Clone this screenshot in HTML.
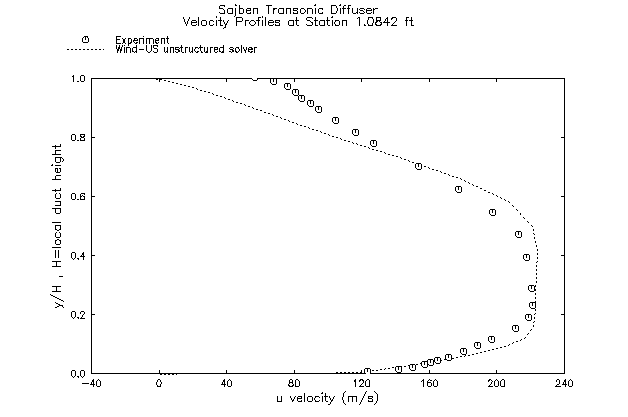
<!DOCTYPE html>
<html><head><meta charset="utf-8"><title>Sajben Transonic Diffuser - Velocity Profiles at Station 1.0842 ft</title>
<style>
html,body{margin:0;padding:0;background:#fff;}
body{width:628px;height:417px;overflow:hidden;font-family:"Liberation Sans",sans-serif;}
svg{display:block}
.ln{fill:none;stroke:#000;stroke-width:1;shape-rendering:crispEdges}
.ht{font-family:"Liberation Sans",sans-serif;fill:none;stroke:none}
</style></head><body>
<svg width="628" height="417" viewBox="0 0 628 417" role="img">
<title>Sajben Transonic Diffuser: Velocity Profiles at Station 1.0842 ft</title>
<desc>y/H, H=local duct height versus u velocity (m/s). Experiment (circles) and Wind-US unstructured solver (dotted line).</desc>
<defs><clipPath id="cp"><rect x="91" y="78" width="474" height="296"/></clipPath></defs>
<rect x="0" y="0" width="628" height="417" fill="#fff"/>
<g><path class="ln" d="M235 4.5h1M315 4.5h1M340 4.5h1M220 5.5h5M235 5.5h2M239.5 5v3M266 5.5h6M314 5.5h2M331 5.5h5M339 5.5h2M344 5.5h2M348 5.5h3M219.5 6v2M224 6.5h1M268.5 6v8M331.5 6v7M336.5 6v2M343.5 6v2M348.5 6v2M219 8.5h4M228 8.5h5M235.5 8v8M239 8.5h4M247 8.5h4M253 8.5h5M273 8.5h4M279 8.5h5M286 8.5h5M293 8.5h5M301 8.5h3M307 8.5h5M315.5 8v6M319 8.5h4M337.5 8v3M340.5 8v6M342 8.5h4M347 8.5h3M352.5 8v5M357.5 8v4M360 8.5h4M367 8.5h4M373 8.5h1M375 8.5h3M223 9.5h1M227.5 9v4M232.5 9v4M239.5 9v4M243.5 9v4M246 9.5h1M250 9.5h1M253.5 9v5M257.5 9v5M273 9.5h2M278.5 9v4M283.5 9v4M286.5 9v5M290.5 9v5M293 9.5h1M297 9.5h1M300.5 9v4M304 9.5h1M307.5 9v5M312.5 9v5M318.5 9v4M322 9.5h1M343.5 9v5M348.5 9v5M359 9.5h1M364 9.5h1M366 9.5h1M371 9.5h1M373 9.5h2M224.5 10v3M246 10.5h5M273.5 10v4M293 10.5h4M305.5 10v2M360 10.5h3M366 10.5h6M373.5 10v4M246.5 11v2M297.5 11v2M336.5 11v2M363 11.5h1M366.5 11v2M219 12.5h1M250 12.5h1M293 12.5h1M304 12.5h1M322 12.5h1M356 12.5h2M359 12.5h1M364 12.5h1M371 12.5h1M220 13.5h5M228 13.5h5M239 13.5h4M247 13.5h4M279 13.5h5M293 13.5h5M301 13.5h3M319 13.5h4M331 13.5h5M353 13.5h3M357 13.5h1M360 13.5h4M367 13.5h4M234 16.5h1"/><text class="ht" x="219" y="17" font-size="10">Sajben Transonic Diffuser</text></g>
<g><path class="ln" d="M216.5 16v2M262.5 16v2M332 16.5h1M183.5 17v2M189.5 17v2M198.5 17v9M220.5 17v3M236 17.5h6M258 17.5h3M265.5 17v9M296.5 17v3M307 17.5h5M315.5 17v3M327.5 17v3M331 17.5h2M358 17.5h2M368 17.5h5M376 17.5h5M387 17.5h1M392 17.5h4M406 17.5h3M411.5 17v3M236.5 18v3M242.5 18v3M258.5 18v2M306.5 18v2M312 18.5h1M357 18.5h1M359.5 18v8M368.5 18v2M372 18.5h1M376.5 18v2M380.5 18v2M386 18.5h2M391 18.5h2M396.5 18v3M406.5 18v2M184.5 19v3M188.5 19v2M373.5 19v4M385.5 19v2M387.5 19v3M391 19.5h1M192 20.5h4M202 20.5h4M210 20.5h3M216.5 20v6M218 20.5h4M223.5 20v2M228 20.5h1M245 20.5h4M251 20.5h3M256 20.5h4M262.5 20v6M269 20.5h4M275 20.5h5M289 20.5h5M295 20.5h4M307 20.5h3M314 20.5h4M320 20.5h5M326 20.5h4M332.5 20v6M335 20.5h4M342 20.5h5M367.5 20v4M376 20.5h5M405 20.5h3M409 20.5h4M187.5 21v3M191 21.5h1M196 21.5h1M201.5 21v4M206.5 21v4M209.5 21v4M213 21.5h1M220.5 21v4M227.5 21v2M236 21.5h6M245.5 21v5M250 21.5h1M254 21.5h1M258.5 21v5M268 21.5h1M273 21.5h1M275 21.5h1M279 21.5h1M288.5 21v4M293.5 21v4M296.5 21v4M310 21.5h1M315.5 21v4M319.5 21v4M324.5 21v4M327.5 21v4M335 21.5h1M339.5 21v4M342.5 21v5M346.5 21v5M376 21.5h2M379 21.5h1M384 21.5h1M395 21.5h1M406.5 21v5M411.5 21v4M185.5 22v2M191 22.5h6M224.5 22v2M236.5 22v4M249.5 22v2M255.5 22v2M268 22.5h6M275 22.5h4M311 22.5h2M334.5 22v2M375 22.5h2M380 22.5h2M383 22.5h7M394 22.5h1M191.5 23v2M226 23.5h1M268.5 23v2M279.5 23v2M312.5 23v2M372.5 23v2M375 23.5h1M381 23.5h1M387.5 23v3M393 23.5h1M186.5 24v2M196 24.5h1M213 24.5h1M225 24.5h2M250 24.5h1M254 24.5h1M273 24.5h1M275 24.5h1M306 24.5h1M335 24.5h1M364 24.5h1M368 24.5h1M375 24.5h2M380 24.5h2M392 24.5h1M192 25.5h4M202 25.5h4M210 25.5h3M220 25.5h3M225.5 25v2M251 25.5h3M269 25.5h4M275 25.5h5M289 25.5h5M297 25.5h2M307 25.5h5M315 25.5h3M320 25.5h5M328 25.5h2M335 25.5h4M364 25.5h2M368 25.5h5M376 25.5h5M391 25.5h6M411 25.5h3M224 27.5h2M223 28.5h1"/><text class="ht" x="183" y="29" font-size="10">Velocity Profiles at Station 1.0842 ft</text></g>
<g id="legend">
<path class="ln" d="M84 36.5h4M83 37.5h1M87 37.5h1M82.5 38v4M88.5 38v4M83 42.5h5M85.5 37v3"/>
<path class="ln" d="M67 49.5h2M71 49.5h2M75 49.5h2M79 49.5h2M83 49.5h2M87 49.5h2M91 49.5h2M95 49.5h2M99 49.5h2M103 49.5h1"/>
<g><path class="ln" d="M116 36.5h5M143 36.5h1M167.5 36v2M116.5 37v2M122 38.5h1M125 38.5h1M128 38.5h3M134 38.5h3M139 38.5h5M146 38.5h7M156 38.5h3M161 38.5h4M166 38.5h3M116 39.5h4M123 39.5h2M128.5 39v4M131.5 39v3M134 39.5h1M137 39.5h1M139.5 39v5M143.5 39v5M146.5 39v5M149.5 39v5M153.5 39v5M155 39.5h1M158 39.5h1M161.5 39v5M164.5 39v5M167.5 39v4M116.5 40v3M123 40.5h2M133 40.5h5M155 40.5h4M123 41.5h2M133 41.5h1M155 41.5h1M123 42.5h2M130 42.5h2M134 42.5h1M136 42.5h2M155 42.5h2M158 42.5h1M116 43.5h5M122 43.5h1M125 43.5h1M128 43.5h3M135 43.5h2M156 43.5h2M168 43.5h1M128.5 44v2"/><text class="ht" x="116" y="46" font-size="8">Experiment</text></g>
<g><path class="ln" d="M116.5 45v4M119.5 45v2M122.5 45v2M124 45.5h1M136.5 45v2M146.5 45v6M151.5 45v6M153 45.5h5M181.5 45v2M200.5 45v2M223.5 45v2M241.5 45v8M153.5 46v2M157 46.5h1M118 47.5h2M121.5 47v2M124.5 47v6M126 47.5h4M133 47.5h4M164.5 47v5M167.5 47v4M170 47.5h4M175 47.5h4M180 47.5h3M185 47.5h3M189.5 47v5M192.5 47v4M195 47.5h3M199 47.5h4M204.5 47v5M207.5 47v4M210 47.5h3M214 47.5h4M220 47.5h4M230 47.5h3M236 47.5h3M243.5 47v2M246.5 47v3M249 47.5h3M254 47.5h3M118 48.5h2M126.5 48v5M130.5 48v5M132.5 48v3M136.5 48v3M154 48.5h3M170.5 48v5M173.5 48v5M175 48.5h1M179 48.5h1M181.5 48v4M185.5 48v5M195 48.5h1M198 48.5h1M200.5 48v3M210.5 48v5M214 48.5h1M217 48.5h1M219.5 48v3M223.5 48v3M229 48.5h1M233 48.5h1M235.5 48v3M238 48.5h1M248 48.5h1M251 48.5h2M254.5 48v5M117 49.5h2M120 49.5h2M139 49.5h5M157.5 49v3M175 49.5h4M194.5 49v2M214 49.5h4M230 49.5h3M239.5 49v2M244 49.5h1M248 49.5h5M117 50.5h2M120 50.5h2M178 50.5h2M214.5 50v2M232 50.5h2M244 50.5h2M248 50.5h1M117.5 51v2M120.5 51v2M132 51.5h2M135 51.5h2M147 51.5h1M150 51.5h1M153 51.5h1M166 51.5h2M175 51.5h1M178 51.5h2M191 51.5h2M195 51.5h1M197 51.5h2M201 51.5h1M206 51.5h2M217 51.5h1M219 51.5h2M222 51.5h2M229 51.5h2M232 51.5h2M235 51.5h2M238 51.5h1M245.5 51v2M248 51.5h2M251 51.5h2M134 52.5h1M136 52.5h1M148 52.5h2M154 52.5h3M165 52.5h1M167 52.5h1M176 52.5h2M182 52.5h2M190 52.5h1M192 52.5h1M196 52.5h2M201 52.5h2M205 52.5h3M215 52.5h2M221 52.5h3M231 52.5h1M236 52.5h2M250 52.5h2"/><text class="ht" x="116" y="53" font-size="8">Wind-US unstructured solver</text></g>
</g>
<path id="frame" class="ln" d="M91.5 78.5H564.5V373.5H91.5Z"/>
<path id="ticks" class="ln" d="M91.5 373.5v-3.5M91.5 78.5v3.5M159.5 373.5v-3.5M159.5 78.5v3.5M226.5 373.5v-3.5M226.5 78.5v3.5M294.5 373.5v-3.5M294.5 78.5v3.5M361.5 373.5v-3.5M361.5 78.5v3.5M429.5 373.5v-3.5M429.5 78.5v3.5M496.5 373.5v-3.5M496.5 78.5v3.5M564.5 373.5v-3.5M564.5 78.5v3.5M91.5 373.5h3.5M564.5 373.5h-3.5M91.5 314.5h3.5M564.5 314.5h-3.5M91.5 255.5h3.5M564.5 255.5h-3.5M91.5 196.5h3.5M564.5 196.5h-3.5M91.5 137.5h3.5M564.5 137.5h-3.5M91.5 78.5h3.5M564.5 78.5h-3.5"/>
<g id="xticklabels">
<g><path class="ln" d="M93 379.5h1M98 379.5h1M92 380.5h2M97 380.5h1M99 380.5h1M92 381.5h2M96.5 381v5M100.5 381v5M91.5 382v2M93.5 382v2M82 383.5h7M90 384.5h5M93.5 385v2M97 386.5h3"/><text class="ht" x="82" y="387" font-size="8">-40</text></g>
<g><path class="ln" d="M158 379.5h2M157.5 380v2M160.5 380v2M156.5 382v3M161.5 382v2M160.5 384v2M157 385.5h1M157 386.5h4"/><text class="ht" x="156" y="387" font-size="8">0</text></g>
<g><path class="ln" d="M224 379.5h1M229 379.5h1M223 380.5h2M228 380.5h1M230 380.5h1M223 381.5h2M227.5 381v5M231.5 381v5M222.5 382v2M224.5 382v2M221 384.5h5M224.5 385v2M228 386.5h3"/><text class="ht" x="221" y="387" font-size="8">40</text></g>
<g><path class="ln" d="M290 379.5h2M296 379.5h2M289.5 380v2M292.5 380v2M295.5 380v6M298 380.5h1M299.5 381v5M289 382.5h4M289 383.5h1M292 383.5h1M288 384.5h1M293 384.5h1M288 385.5h2M292 385.5h2M289 386.5h4M295 386.5h4"/><text class="ht" x="288" y="387" font-size="8">80</text></g>
<g><path class="ln" d="M355 379.5h1M360 379.5h3M367 379.5h2M354 380.5h2M359 380.5h2M362 380.5h2M366 380.5h1M369.5 380v6M354 381.5h2M359 381.5h1M363.5 381v2M365.5 381v5M355.5 382v5M362 383.5h1M361 384.5h1M360 385.5h1M359 386.5h5M366 386.5h4"/><text class="ht" x="354" y="387" font-size="8">120</text></g>
<g><path class="ln" d="M423 379.5h1M429 379.5h1M435 379.5h1M422 380.5h2M428 380.5h1M430 380.5h2M434 380.5h1M436 380.5h1M421 381.5h1M423.5 381v6M427 381.5h1M433.5 381v5M437.5 381v5M427 382.5h4M427.5 383v3M431.5 383v3M428 386.5h3M434 386.5h3"/><text class="ht" x="421" y="387" font-size="8">160</text></g>
<g><path class="ln" d="M489 379.5h2M496 379.5h1M502 379.5h2M488 380.5h2M491 380.5h1M495 380.5h1M497 380.5h1M501 380.5h1M504.5 380v6M488 381.5h1M492 381.5h1M494.5 381v5M498.5 381v5M500.5 381v5M491.5 382v2M490 384.5h1M489 385.5h1M488 386.5h5M495 386.5h3M501 386.5h4"/><text class="ht" x="488" y="387" font-size="8">200</text></g>
<g><path class="ln" d="M557 379.5h2M565 379.5h1M570 379.5h1M556.5 380v2M559.5 380v4M564 380.5h2M569 380.5h1M571 380.5h1M564 381.5h2M568.5 381v5M572.5 381v5M563.5 382v2M565.5 382v2M557 384.5h2M562 384.5h5M556 385.5h1M565.5 385v2M555 386.5h6M569 386.5h3"/><text class="ht" x="555" y="387" font-size="8">240</text></g>
</g><g id="yticklabels">
<g><path class="ln" d="M72 370.5h3M81 370.5h3M71.5 371v5M75.5 371v5M80.5 371v5M84.5 371v5M72 376.5h1M74 376.5h1M77 376.5h2M81 376.5h1M83 376.5h1M73 377.5h1M78 377.5h1M82 377.5h1"/><text class="ht" x="71" y="378" font-size="8">0.0</text></g>
<g><path class="ln" d="M72 311.5h3M81 311.5h3M71.5 312v5M75.5 312v5M80.5 312v2M84.5 312v2M83 314.5h1M82.5 315v2M72 317.5h1M74 317.5h1M77 317.5h2M81 317.5h1M73 318.5h1M78 318.5h1M80 318.5h5"/><text class="ht" x="71" y="319" font-size="8">0.2</text></g>
<g><path class="ln" d="M72 252.5h3M83 252.5h1M71.5 253v5M75.5 253v5M82 253.5h2M82 254.5h2M81 255.5h1M83 255.5h1M80 256.5h5M83.5 257v3M72 258.5h1M74 258.5h1M77 258.5h2M73 259.5h1M78 259.5h1"/><text class="ht" x="71" y="260" font-size="8">0.4</text></g>
<g><path class="ln" d="M72 193.5h3M81 193.5h4M71.5 194v5M75.5 194v5M80.5 194v2M84 194.5h1M82 195.5h1M80 196.5h2M83 196.5h2M80.5 197v2M84.5 197v2M72 199.5h3M77 199.5h2M80 199.5h5"/><text class="ht" x="71" y="200" font-size="8">0.6</text></g>
<g><path class="ln" d="M72 134.5h3M80 134.5h5M71.5 135v5M75.5 135v5M80 135.5h1M84 135.5h1M80 136.5h2M83 136.5h2M81 137.5h3M80.5 138v2M84.5 138v2M72 140.5h3M77 140.5h2M80 140.5h5"/><text class="ht" x="71" y="141" font-size="8">0.8</text></g>
<g><path class="ln" d="M73 75.5h1M81 75.5h3M72 76.5h2M80.5 76v5M84.5 76v5M73.5 77v5M77 81.5h2M81 81.5h3"/><text class="ht" x="72" y="82" font-size="8">1.0</text></g>
</g>
<g><path class="ln" d="M345 391.5h1M366 391.5h1M374 391.5h1M322 392.5h1M344 392.5h1M365.5 392v2M375 392.5h1M304.5 393v9M321 393.5h2M325.5 393v3M343.5 393v4M376 393.5h1M364.5 394v2M377.5 394v7M277.5 396v5M281.5 396v5M290.5 396v2M295 396.5h1M298 396.5h4M308 396.5h4M315 396.5h4M322.5 396v6M324 396.5h4M329.5 396v2M334 396.5h1M348 396.5h9M363.5 396v2M368 396.5h5M294.5 397v2M297 397.5h1M301 397.5h1M307.5 397v4M312.5 397v4M315 397.5h1M319 397.5h1M325.5 397v4M333.5 397v2M342.5 397v3M348.5 397v5M352.5 397v5M356.5 397v5M368 397.5h1M372 397.5h1M291.5 398v2M297 398.5h5M314.5 398v2M330.5 398v2M362.5 398v2M368 398.5h4M293 399.5h1M297.5 399v2M332 399.5h1M372.5 399v2M292 400.5h2M301 400.5h1M315 400.5h1M319 400.5h1M331 400.5h2M343.5 400v3M361.5 400v2M368 400.5h1M277 401.5h5M292 401.5h1M298 401.5h4M308 401.5h4M315 401.5h4M326 401.5h2M331 401.5h1M368 401.5h5M376.5 401v2M330.5 402v2M360.5 402v2M344 403.5h1M375 403.5h1M328 404.5h2M345 404.5h1M359 404.5h1M374 404.5h1"/><text class="ht" x="277" y="405" font-size="10">u velocity (m/s)</text></g>
<g><path class="ln" d="M60.5 144v2M55 145.5h1M52 146.5h9M55.5 147v2M55 150.5h6M55.5 151v3M52 154.5h9M55 157.5h7M55.5 158v4M60.5 158v4M62 158.5h1M63.5 159v2M62 161.5h1M56 162.5h4M52 164.5h1M51 165.5h2M55 165.5h6M55 168.5h3M59 168.5h2M55.5 169v3M57.5 169v3M60.5 169v3M56 172.5h4M56 175.5h5M55.5 176v3M52 179.5h9M60.5 188v2M55 189.5h1M52 190.5h9M55 191.5h1M56 193.5h1M59 193.5h1M55.5 194v4M60.5 194v4M56 198.5h4M55 201.5h6M60.5 202v3M55 205.5h6M52 208.5h9M55.5 209v4M60.5 209v4M56 213.5h4M52 222.5h9M55 225.5h6M55.5 226v3M60.5 226v3M55 229.5h2M59 229.5h2M57 230.5h2M56 232.5h1M59 232.5h1M55.5 233v4M60.5 233v4M56 237.5h4M57 239.5h2M55 240.5h2M59 240.5h2M55.5 241v3M60.5 241v3M56 244.5h4M52 247.5h9M55.5 250v8M58.5 250v8M52 261.5h9M56.5 262v4M52 266.5h9M59 276.5h4M52 286.5h9M56.5 287v4M52 291.5h9M50 294.5h1M51 295.5h2M53 296.5h2M55 297.5h2M57 298.5h2M59 299.5h2M61 300.5h2M63 301.5h1M55 302.5h1M56 303.5h2M58 304.5h2M59 305.5h4M57 306.5h2M62 306.5h1M55 307.5h2M63 307.5h1"/><text class="ht" x="64" y="308" font-size="10" transform="rotate(-90 64 308)">y/H , H=local duct height</text></g>
<path id="windus" class="ln" d="M156 79.5h2M160 79.5h2M164 80.5h2M168 81.5h2M172 82.5h2M176 83.5h2M180 84.5h2M184 85.5h2M188 86.5h2M192 87.5h2M196 88.5h1M197 89.5h1M200 90.5h2M204 91.5h2M208 92.5h2M212 93.5h1M213 94.5h1M216 95.5h2M220 96.5h2M224 97.5h1M225 98.5h1M228 99.5h2M232 100.5h1M233 101.5h1M236 102.5h2M240 103.5h2M244 104.5h1M245 105.5h1M248 106.5h2M252 107.5h1M253 108.5h1M256 109.5h2M260 110.5h2M264 112.5h2M268 113.5h2M272 114.5h1M273 115.5h1M276 116.5h2M280 117.5h1M281 118.5h1M284 119.5h2M288 120.5h1M289 121.5h1M292 122.5h2M296 123.5h1M297 124.5h1M300 125.5h2M304 126.5h2M308 127.5h1M309 128.5h1M312 129.5h2M316 130.5h2M320 131.5h1M321 132.5h1M324 133.5h2M328 134.5h1M329 135.5h1M332 136.5h2M336 137.5h2M340 138.5h1M341 139.5h1M344 140.5h2M348 141.5h2M352 142.5h1M353 143.5h1M356 143.5h1M357 144.5h1M360 145.5h2M364 146.5h2M368 147.5h1M369 148.5h1M372 149.5h2M376 150.5h2M380 151.5h2M384 152.5h1M385 153.5h1M388 154.5h2M392 155.5h2M396 156.5h2M400 157.5h1M401 158.5h1M404 159.5h2M408 160.5h1M409 161.5h1M412 162.5h2M416 163.5h2M420 164.5h1M421 165.5h1M424 166.5h2M428 167.5h1M429 168.5h1M432 169.5h2M436 170.5h2M440 171.5h1M441 172.5h1M444 173.5h2M448 174.5h1M449 175.5h1M452 176.5h2M456 177.5h2M460 178.5h1M461 179.5h1M464 180.5h1M465 181.5h1M468 182.5h1M469 183.5h1M472 184.5h1M473 185.5h1M476 186.5h2M480 188.5h2M484 190.5h2M488 192.5h2M492 193.5h1M493 194.5h1M496 195.5h1M497 196.5h1M500 197.5h1M501 198.5h1M504 199.5h1M505 200.5h1M508 201.5h1M509 202.5h1M512 205.5h1M513 206.5h1M516 209.5h1M517 210.5h1M520.5 213v2M523 217.5h1M524 218.5h1M527 221.5h1M528 222.5h1M531 225.5h1M532 226.5h1M533.5 229v2M533 233.5h1M534 234.5h1M534.5 237v2M535.5 241v2M536.5 245v2M537.5 249v2M537.5 253v2M537 257.5h1M537 258.5h1M537 261.5h1M536 262.5h1M536.5 265v2M536.5 269v2M536.5 273v2M536.5 277v2M536.5 281v2M535.5 285v2M535.5 289v2M535.5 293v2M535.5 297v2M535.5 301v2M535.5 305v2M535.5 309v2M535 313.5h1M534 314.5h1M534.5 317v2M534 321.5h1M533 322.5h1M533.5 325v2M531 329.5h1M530 330.5h1M528 333.5h1M527 334.5h1M525 337.5h1M524 338.5h1M521 339.5h1M520 340.5h1M516 341.5h2M513 342.5h1M512 343.5h1M509 344.5h1M508 345.5h1M504 346.5h2M500 347.5h2M496 348.5h2M492 349.5h2M488 350.5h2M484 351.5h2M480 352.5h2M476 353.5h2M472 354.5h2M465 355.5h1M468 355.5h2M460 356.5h2M464 356.5h1M456 357.5h2M449 358.5h1M452 358.5h2M444 359.5h2M448 359.5h1M436 360.5h2M440 360.5h2M428 361.5h2M432 361.5h2M424 362.5h2M420 363.5h2M416 364.5h2M408 365.5h2M412 365.5h2M400 366.5h2M404 366.5h2M392 367.5h2M396 367.5h2M385 368.5h1M388 368.5h2M380 369.5h2M384 369.5h1M369 370.5h1M372 370.5h2M376 370.5h2M365 371.5h1M368 371.5h1M336 372.5h2M340 372.5h2M344 372.5h2M348 372.5h2M352 372.5h2M356 372.5h2M360 372.5h2M364 372.5h1"/>
<path class="ln" d="M160 374.5h2M164 374.5h2M168 374.5h2M172 374.5h2M176 374.5h1"/>
<g id="experiment" clip-path="url(#cp)"><path fill="#fff" stroke="none" shape-rendering="crispEdges" d="M252 75h5v5h-5zM271 79h5v5h-5zM285 84h5v5h-5zM293 90h5v5h-5zM299 96h5v5h-5zM308 101h5v5h-5zM316 107h5v5h-5zM333 118h5v5h-5zM353 130h5v5h-5zM371 141h5v5h-5zM416 164h5v5h-5zM456 187h5v5h-5zM490 210h5v5h-5zM516 232h5v5h-5zM524 255h5v5h-5zM529 286h5v5h-5zM530 303h5v5h-5zM526 315h5v5h-5zM513 326h5v5h-5zM489 337h5v5h-5zM475 343h5v5h-5zM461 349h5v5h-5zM446 355h5v5h-5zM435 358h5v5h-5zM428 360h5v5h-5zM422 362h5v5h-5zM410 365h5v5h-5zM396 367h5v5h-5zM365 369h5v5h-5z"/><path class="ln" d="M252 74.5h5M251.5 75v4M257.5 75v5M252 79.5h1M253 80.5h4M254.5 75v3M271 78.5h5M270.5 79v4M276.5 79v5M271 83.5h1M272 84.5h4M273.5 79v3M285 83.5h5M284.5 84v4M290.5 84v5M285 88.5h1M286 89.5h4M287.5 84v3M293 89.5h5M292.5 90v4M298.5 90v5M293 94.5h1M294 95.5h4M295.5 90v3M299 95.5h5M298.5 96v4M304.5 96v5M299 100.5h1M300 101.5h4M301.5 96v3M308 100.5h5M307.5 101v4M313.5 101v5M308 105.5h1M309 106.5h4M310.5 101v3M316 106.5h5M315.5 107v4M321.5 107v5M316 111.5h1M317 112.5h4M318.5 107v3M333 117.5h5M332.5 118v4M338.5 118v5M333 122.5h1M334 123.5h4M335.5 118v3M353 129.5h5M352.5 130v4M358.5 130v5M353 134.5h1M354 135.5h4M355.5 130v3M371 140.5h5M370.5 141v4M376.5 141v5M371 145.5h1M372 146.5h4M373.5 141v3M416 163.5h5M415.5 164v4M421.5 164v5M416 168.5h1M417 169.5h4M418.5 164v3M456 186.5h5M455.5 187v4M461.5 187v5M456 191.5h1M457 192.5h4M458.5 187v3M490 209.5h5M489.5 210v4M495.5 210v5M490 214.5h1M491 215.5h4M492.5 210v3M516 231.5h5M515.5 232v4M521.5 232v5M516 236.5h1M517 237.5h4M518.5 232v3M524 254.5h5M523.5 255v4M529.5 255v5M524 259.5h1M525 260.5h4M526.5 255v3M529 285.5h5M528.5 286v4M534.5 286v5M529 290.5h1M530 291.5h4M531.5 286v3M530 302.5h5M529.5 303v4M535.5 303v5M530 307.5h1M531 308.5h4M532.5 303v3M526 314.5h5M525.5 315v4M531.5 315v5M526 319.5h1M527 320.5h4M528.5 315v3M513 325.5h5M512.5 326v4M518.5 326v5M513 330.5h1M514 331.5h4M515.5 326v3M489 336.5h5M488.5 337v4M494.5 337v5M489 341.5h1M490 342.5h4M491.5 337v3M475 342.5h5M474.5 343v4M480.5 343v5M475 347.5h1M476 348.5h4M477.5 343v3M461 348.5h5M460.5 349v4M466.5 349v5M461 353.5h1M462 354.5h4M463.5 349v3M446 354.5h5M445.5 355v4M451.5 355v5M446 359.5h1M447 360.5h4M448.5 355v3M435 357.5h5M434.5 358v4M440.5 358v5M435 362.5h1M436 363.5h4M437.5 358v3M428 359.5h5M427.5 360v4M433.5 360v5M428 364.5h1M429 365.5h4M430.5 360v3M422 361.5h5M421.5 362v4M427.5 362v5M422 366.5h1M423 367.5h4M424.5 362v3M410 364.5h5M409.5 365v4M415.5 365v5M410 369.5h1M411 370.5h4M412.5 365v3M396 366.5h5M395.5 367v4M401.5 367v5M396 371.5h1M397 372.5h4M398.5 367v3M365 368.5h5M364.5 369v4M370.5 369v5M365 373.5h1M366 374.5h4M367.5 369v3"/></g>
</svg>
</body></html>
